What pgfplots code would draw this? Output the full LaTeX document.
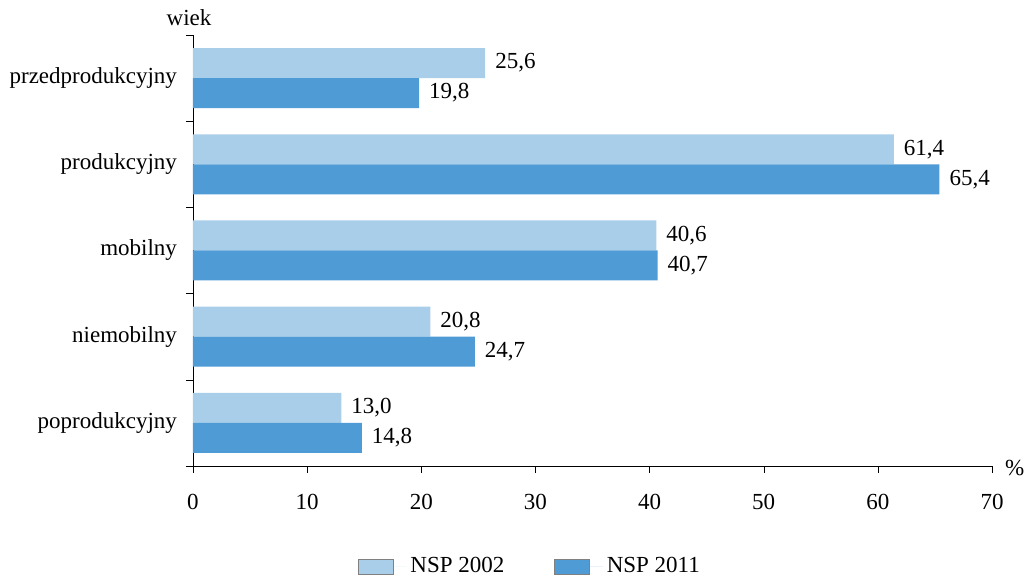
\documentclass[border=0pt]{standalone}
\usepackage{fontspec}
\setmainfont{Liberation Serif}
\usepackage{pgfplots}
\pgfplotsset{compat=1.18}
\definecolor{light}{RGB}{169,206,234}
\definecolor{dark}{RGB}{79,155,213}

\begin{document}
\fontsize{11.5}{13.8}\selectfont
\begin{tikzpicture}
	\begin{axis}[xbar, scale only axis, width=399.5pt, height=215.5pt,
		xmin=0, xmax=70, ymin=-0.5, ymax=4.5, clip=false,
		axis lines*=left, axis line style={-, black},
		/pgf/number format/assume math mode=true,
		xtick={0,10,...,70},
		ytick={0,...,4},
		yticklabels={poprodukcyjny,niemobilny,mobilny,produkcyjny,przedprodukcyjny},
		minor ytick={-0.5,0.5,...,4.5},
		major y tick style={draw=none},
		tick align=outside, major tick length=3.5pt, minor tick length=3.5pt,
		tick style={black}, minor tick style={black},
		xticklabel style={yshift=-6.5pt},
		yticklabel style={xshift=-0.5pt},
		bar width=15pt,
		point meta=x,
		nodes near coords={\pgfmathprintnumber[fixed,fixed zerofill,precision=1,use comma,assume math mode=true]{\pgfplotspointmeta}},
		nodes near coords align={horizontal},
		every node near coord/.append style={xshift=1pt, black},
		legend columns=2,
		legend cell align=left,
		legend style={at={(0.423,-0.234)}, anchor=center, draw=none, fill=none, inner sep=0pt,
			/tikz/every even column/.append style={column sep=23pt}},
		legend image code/.code={\draw[#1, draw=gray] (0pt,-3.75pt) rectangle (17.5pt,3.75pt);
			\path (17.5pt,0pt) -- (24pt,0pt);},
		]
		\addplot[fill=light, draw=none, bar shift=7.5pt] coordinates
			{(13.0,0) (20.8,1) (40.6,2) (61.4,3) (25.6,4)};
		\addlegendentry{NSP 2002};
		\addplot[fill=dark, draw=none, bar shift=-7.5pt] coordinates
			{(14.8,0) (24.7,1) (40.7,2) (65.4,3) (19.8,4)};
		\addlegendentry{NSP 2011};
		\coordinate (o) at (rel axis cs:0,0);
		\node[anchor=west] at ([xshift=2.5pt, yshift=-1pt]rel axis cs:1,0) {\%};
		\node at ([xshift=-2pt, yshift=8.5pt]rel axis cs:0,1) {wiek};
	\end{axis}
	\pgfresetboundingbox
	\path (o) ++(-96.5pt,-57.5pt) rectangle ++(514pt,290.5pt);
\end{tikzpicture}
\end{document}
